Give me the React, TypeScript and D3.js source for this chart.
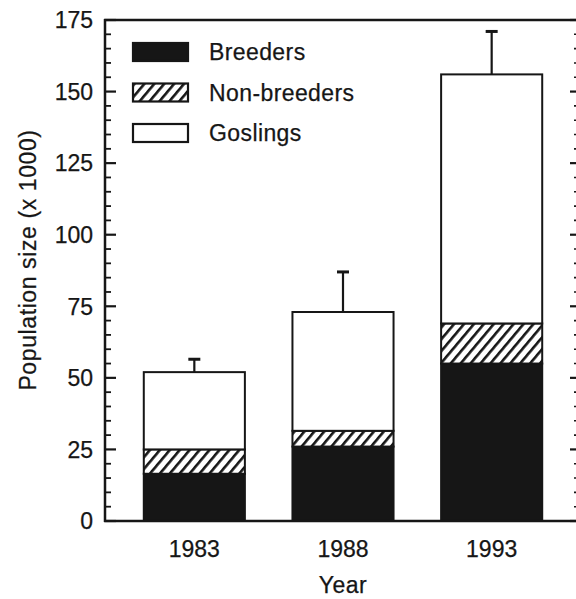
import * as d3 from "d3";

// values (population x 1000)
const years = ["1983", "1988", "1993"];
const breeders = [16.5, 26, 55];
const nonBreeders = [8.5, 5.5, 14];
const goslings = [27, 41.5, 87];
const errorPlus = [4.5, 14, 15];

const seriesKeys = ["Breeders", "Non-breeders", "Goslings"];
const yTicksMajor = [0, 25, 50, 75, 100, 125, 150, 175];

const W = 576;
const H = 599;
const FONT = "'Liberation Sans', Arial, Helvetica, sans-serif";
const INK = "#161616";
const FS = 23;

const FILL: Record<string, string> = {
  Breeders: INK,
  "Non-breeders": "url(#hatch)",
  Goslings: "#fff"
};

export default function App() {
  const y = d3.scaleLinear().domain([0, 175]).range([521, 20]);
  const x = d3.scaleBand<string>()
    .domain(years)
    .range([120, 566])
    .paddingInner(0.32)
    .paddingOuter(0.16);

  const rows = years.map((yr, i) => ({
    year: yr,
    Breeders: breeders[i],
    "Non-breeders": nonBreeders[i],
    Goslings: goslings[i]
  }));
  const stacked = d3.stack<any>().keys(seriesKeys)(rows);

  const axisX = 105;
  const rightX = 580;
  const minor = d3.range(0, 176, 5).filter((v) => v % 25 !== 0);

  const txt = { fontSize: FS, fill: INK, stroke: INK, strokeWidth: 0.25 };

  return (
    <svg width={W} height={H} style={{ position: "absolute", left: 0, top: 0, background: "#fff" }}
      fontFamily={FONT}>
      <defs>
        <pattern id="hatch" patternUnits="userSpaceOnUse" width={7.6} height={7.6}
          patternTransform="rotate(40)">
          <rect width={7.6} height={7.6} fill="#fff" />
          <rect x={0} y={0} width={2.6} height={7.6} fill={INK} />
        </pattern>
      </defs>

      {/* bars */}
      {stacked.map((s) => (
        <g key={s.key}>
          {s.map((d, i) => (
            <rect key={i}
              x={x(years[i])!} width={x.bandwidth()}
              y={y(d[1])} height={y(d[0]) - y(d[1])}
              fill={FILL[s.key]} stroke={INK} strokeWidth={2} />
          ))}
        </g>
      ))}

      {/* error bars */}
      {years.map((yr, i) => {
        const top = breeders[i] + nonBreeders[i] + goslings[i];
        const cx = x(yr)! + x.bandwidth() / 2;
        return (
          <g key={yr} stroke={INK}>
            <line x1={cx} x2={cx} y1={y(top)} y2={y(top + errorPlus[i])} strokeWidth={2.2} />
            <line x1={cx - 6} x2={cx + 6} y1={y(top + errorPlus[i])} y2={y(top + errorPlus[i])} strokeWidth={3} />
          </g>
        );
      })}

      {/* frame */}
      <g stroke={INK} fill="none">
        <line x1={axisX} x2={axisX} y1={y(175) - 1} y2={y(0) + 1} strokeWidth={2.5} />
        <line x1={axisX - 1} x2={W + 10} y1={y(0)} y2={y(0)} strokeWidth={2.5} />
        <line x1={axisX - 1} x2={W + 10} y1={y(175)} y2={y(175)} strokeWidth={2.5} />
        <line x1={rightX} x2={rightX} y1={y(175)} y2={y(0)} strokeWidth={2.5} />
        {yTicksMajor.map((v) => (
          <g key={v}>
            <line x1={axisX} x2={axisX + 11} y1={y(v)} y2={y(v)} strokeWidth={2.2} />
            <line x1={rightX} x2={rightX - 10} y1={y(v)} y2={y(v)} strokeWidth={2.2} />
          </g>
        ))}
        {minor.map((v) => (
          <g key={v}>
            <line x1={axisX} x2={axisX + 6} y1={y(v)} y2={y(v)} strokeWidth={1.8} />
            <line x1={rightX} x2={rightX - 6} y1={y(v)} y2={y(v)} strokeWidth={1.6} />
          </g>
        ))}
      </g>

      {/* y tick labels */}
      {yTicksMajor.map((v) => (
        <text key={v} x={93} y={y(v)} dy="0.36em" textAnchor="end" {...txt}>
          {v}
        </text>
      ))}

      {/* x tick labels */}
      {years.map((yr) => (
        <text key={yr} x={x(yr)! + x.bandwidth() / 2} y={557} textAnchor="middle" {...txt}>
          {yr}
        </text>
      ))}

      <text x={343} y={593} textAnchor="middle" {...txt} letterSpacing={0.5}>Year</text>
      <text transform="translate(36,260) rotate(-90)" textAnchor="middle" {...txt}
        letterSpacing={0.6}>
        Population size (x 1000)
      </text>

      {/* legend */}
      {seriesKeys.map((k, i) => (
        <g key={k} transform={`translate(133,${43 + i * 40.5})`}>
          <rect width={55} height={18} fill={FILL[k]} stroke={INK} strokeWidth={2.2} />
          <text x={76} y={17} {...txt} letterSpacing={0.4}>{k}</text>
        </g>
      ))}
    </svg>
  );
}
